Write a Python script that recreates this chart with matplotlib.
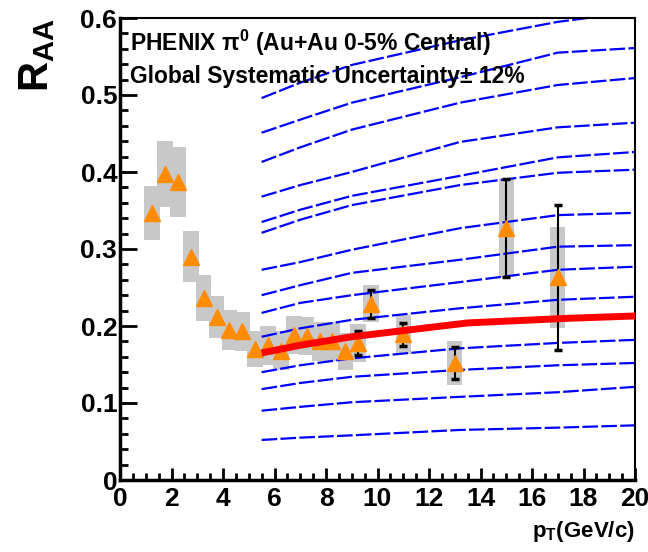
import matplotlib
matplotlib.use('Agg')
import matplotlib.pyplot as plt
from matplotlib.patches import Rectangle
from matplotlib.ticker import MultipleLocator, FuncFormatter

plt.rcParams['font.family'] = ['Liberation Sans', 'DejaVu Sans']
plt.rcParams['font.weight'] = 'bold'
plt.rcParams['mathtext.fontset'] = 'custom'
plt.rcParams['mathtext.rm'] = 'Liberation Sans:bold'
plt.rcParams['mathtext.bf'] = 'Liberation Sans:bold'
plt.rcParams['mathtext.it'] = 'Liberation Sans:bold'
plt.rcParams['mathtext.default'] = 'bf'

# PHENIX pi0 data, Au+Au 0-5%
pt = [1.25, 1.75, 2.25, 2.75, 3.25, 3.75, 4.25, 4.75, 5.25, 5.75, 6.25,
      6.75, 7.25, 7.75, 8.25, 8.75, 9.25, 9.75, 11, 13, 15, 17]
raa = [0.347, 0.397, 0.387, 0.290, 0.236, 0.212, 0.195, 0.193, 0.170, 0.175,
       0.168, 0.188, 0.187, 0.180, 0.180, 0.167, 0.178, 0.229, 0.189, 0.152,
       0.327, 0.263]
stat = [0, 0, 0, 0, 0, 0, 0, 0, 0, 0, 0, 0, 0, 0, 0, 0,
        0.016, 0.018, 0.015, 0.021, 0.064, 0.094]
sys_err = [0.035, 0.043, 0.045, 0.033, 0.030, 0.027, 0.026, 0.025, 0.023,
           0.025, 0.025, 0.025, 0.025, 0.025, 0.025, 0.024, 0.025, 0.024,
           0.025, 0.028, 0.064, 0.066]

# model curves
curve_pt = [5.5, 7, 9, 13.2, 17, 20]
curves = [
    [0.496, 0.516, 0.539, 0.571, 0.595, 0.608],
    [0.451, 0.468, 0.490, 0.523, 0.555, 0.561],
    [0.413, 0.432, 0.455, 0.490, 0.513, 0.522],
    [0.368, 0.383, 0.400, 0.439, 0.458, 0.464],
    [0.335, 0.351, 0.369, 0.395, 0.419, 0.426],
    [0.321, 0.338, 0.357, 0.383, 0.399, 0.403],
    [0.273, 0.283, 0.299, 0.327, 0.344, 0.347],
    [0.240, 0.253, 0.269, 0.286, 0.303, 0.305],
    [0.217, 0.230, 0.240, 0.257, 0.273, 0.277],
    [0.186, 0.197, 0.208, 0.223, 0.234, 0.238],
    [0.140, 0.149, 0.158, 0.171, 0.178, 0.182],
    [0.118, 0.126, 0.134, 0.143, 0.149, 0.152],
    [0.090, 0.095, 0.101, 0.108, 0.114, 0.121],
    [0.052, 0.055, 0.058, 0.065, 0.068, 0.071],
]
best_pt = [5.5, 7, 9, 13.5, 17.4, 20]
best_raa = [0.165, 0.175, 0.186, 0.204, 0.210, 0.213]

fig = plt.figure(figsize=(6.48, 5.52), dpi=100)
ax = fig.add_axes([120/648, 72/552, 515/648, 462/552])

# systematic boxes
for x, y, s in zip(pt, raa, sys_err):
    ax.add_patch(Rectangle((x - 0.3, y - s), 0.6, 2*s, color='#c8c8c8', lw=0, zorder=1))

for c in curves:
    ax.plot(curve_pt, c, color='#0000ff', lw=1.6, ls=(0, (7, 1.5)), zorder=2)

# stat errors
ex = [x for x, e in zip(pt, stat) if e > 0]
ey = [y for y, e in zip(raa, stat) if e > 0]
ee = [e for e in stat if e > 0]
ax.errorbar(ex, ey, yerr=ee, fmt='none', ecolor='black', elinewidth=1.5,
            capsize=3, capthick=2.5, zorder=3)
ax.plot(pt, raa, ls='none', marker='^', ms=12, color='#ff8c00', mec='#ff8c00', zorder=4)

ax.plot(best_pt, best_raa, color='#ff0000', lw=5, zorder=5, solid_capstyle='butt')

ax.set_xlim(0, 20)
ax.set_ylim(0, 0.6)
ax.xaxis.set_major_locator(MultipleLocator(2))
ax.xaxis.set_minor_locator(MultipleLocator(0.5))
ax.yaxis.set_major_locator(MultipleLocator(0.1))
ax.yaxis.set_minor_locator(MultipleLocator(0.02))
ax.yaxis.set_major_formatter(FuncFormatter(lambda v, p: '0' if abs(v) < 1e-9 else '%.1f' % v))
ax.xaxis.set_major_formatter(FuncFormatter(lambda v, p: '%d' % round(v)))
ax.tick_params(axis='both', which='both', direction='in', top=False, right=False, width=2)
ax.tick_params(axis='y', which='major', length=12, labelsize=19, pad=2)
ax.tick_params(axis='y', which='minor', length=6)
ax.tick_params(axis='x', which='major', length=9, labelsize=19, pad=5)
ax.tick_params(axis='x', which='minor', length=5)
for s in ['left', 'bottom']:
    ax.spines[s].set_linewidth(2.5)
for s in ['top', 'right']:
    ax.spines[s].set_linewidth(1.5)

ax.text(0.02, 0.978, r'PHENIX $\pi^0$ (Au+Au 0-5% Central)', transform=ax.transAxes,
        fontsize=16.5, va='top', ha='left', zorder=6)
ax.text(0.02, 0.898, 'Global Systematic Uncertainty\u00b1 12%', transform=ax.transAxes,
        fontsize=16.5, va='top', ha='left', zorder=6)

fig.text(37/648, 1 - 18/552, r'$R_{AA}$', rotation=90, ha='center', va='top', fontsize=30)
fig.text(635/648, 1 - 532/552, r'$p_T$(GeV/c)', ha='right', va='center', fontsize=16)

fig.savefig('out.png', dpi=100)
